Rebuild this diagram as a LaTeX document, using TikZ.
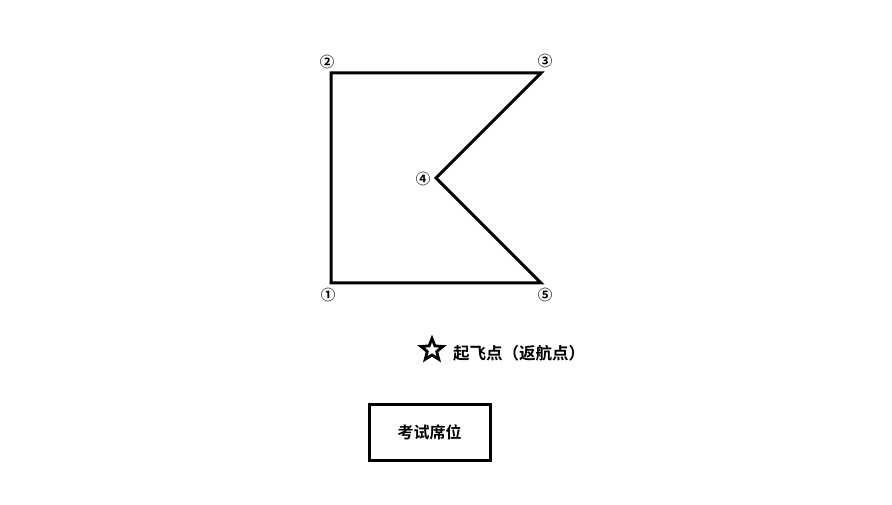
\documentclass[tikz,border=0pt]{standalone}
\usepackage{fontspec}
\usetikzlibrary{shapes.geometric}
\newfontfamily\cjk{Noto Sans CJK SC}
\newfontfamily\cjkb{Noto Sans CJK SC Bold}

\tikzset{
  route/.style={line width=3pt, line join=miter},
  ptlabel/.style={font=\cjkb\fontsize{14.5}{14.5}\selectfont, inner sep=0pt},
  seatbox/.style={draw, line width=3pt, minimum width=121pt, minimum height=56pt, font=\cjkb\fontsize{16}{16}\selectfont}
}

\begin{document}
\begin{tikzpicture}[x=1pt, y=-1pt]
    \useasboundingbox (0,0) rectangle (892,505);

    % flight route corners
    \coordinate (p1) at (331,283);
    \coordinate (p2) at (331,73);
    \coordinate (p3) at (541,73);
    \coordinate (p4) at (436,178);
    \coordinate (p5) at (541,283);
    \draw[route] (p1) -- (p2) -- (p3) -- (p4) -- (p5) -- cycle;

    % corner numbers
    \node[ptlabel] (n1) at (328,295) {①};
    \node[ptlabel] (n2) at (327,62) {②};
    \node[ptlabel] (n3) at (545,61) {③};
    \node[ptlabel] (n4) at (423,179) {④};
    \node[ptlabel] (n5) at (545,295) {⑤};

    % take-off point
    \node[star, star points=5, star point ratio=2.3, draw, line width=2.8pt,
          minimum size=23pt, inner sep=0pt] (home) at (432,350) {};
    \node[anchor=west, inner sep=0pt, font=\cjkb\fontsize{16.5}{16.5}\selectfont]
          (homelbl) at (453,353) {起飞点（返航点）};

    % exam seat
    \node[seatbox] (seat) at (429.5,432) {考试席位};
\end{tikzpicture}
\end{document}
